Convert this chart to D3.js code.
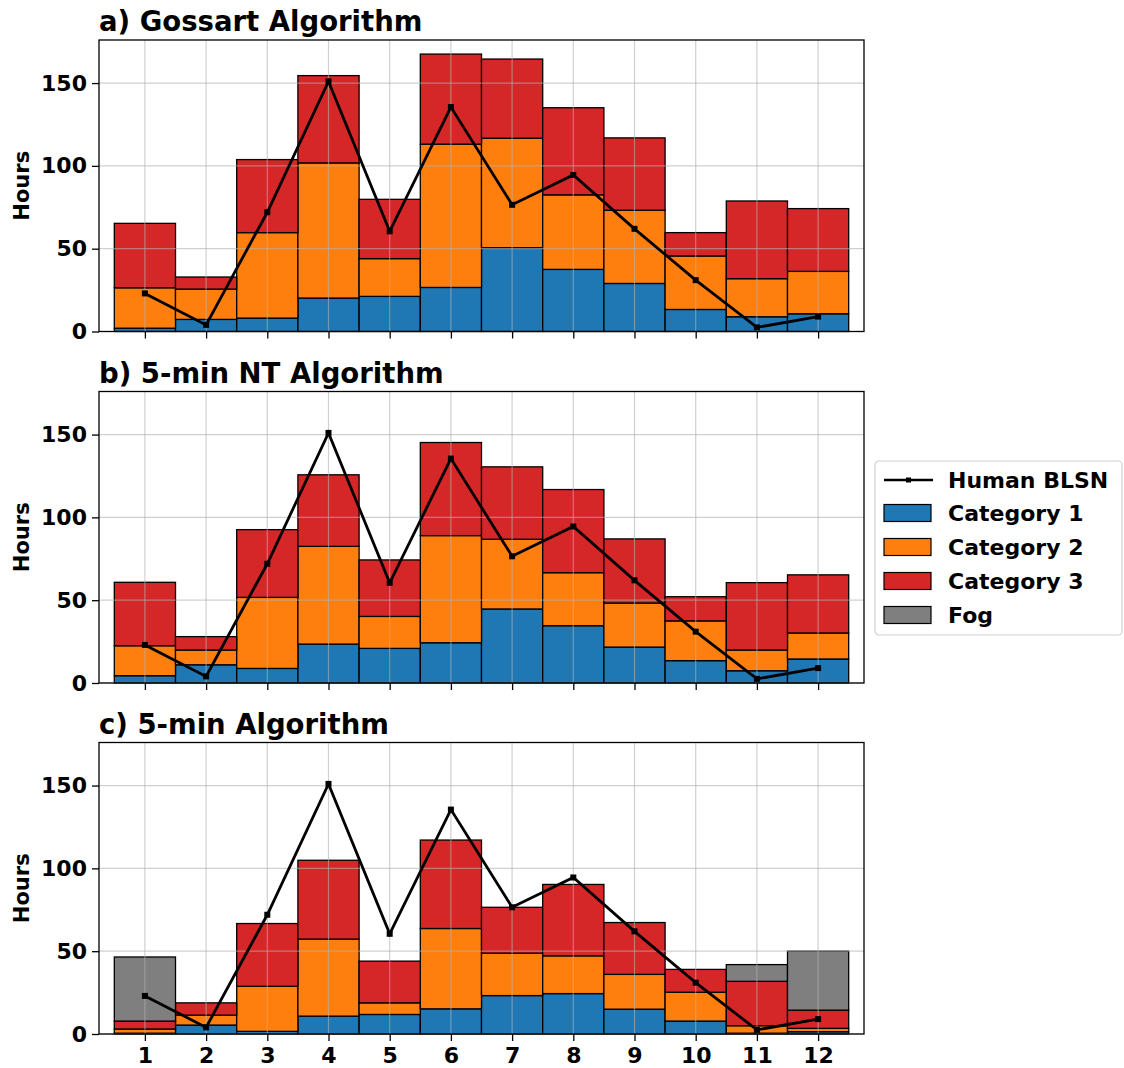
<!DOCTYPE html>
<html>
<head>
<meta charset="utf-8">
<script src="https://cdn.jsdelivr.net/npm/d3@7"></script>
<style>
  body { margin: 0; background: #fff; }
  text { font-family: "DejaVu Sans", sans-serif; font-weight: bold; fill: #000; }
</style>
</head>
<body>
<div id="chart"></div>
<script>
var months = [1, 2, 3, 4, 5, 6, 7, 8, 9, 10, 11, 12];
var humanBLSN = [23, 4, 72, 151, 60.5, 135.5, 76.5, 94.5, 62, 31, 2.5, 9];

// cumulative tops, turned into per-category values below
var gossartCat1 = [2, 7.3, 8.1, 20.2, 21.2, 26.6, 50.6, 37.5, 29, 13.3, 8.9, 10.7];
var gossartCat2 = [24.4, 18.3, 51.6, 81.6, 22.8, 86.5, 66.1, 45, 44.2, 32.3, 23, 25.6];
var gossartCat3 = [38.9, 7.3, 44.1, 52.7, 35.8, 54.4, 47.8, 52.6, 43.7, 14.1, 46.9, 37.9];
var gossartFog = [0, 0, 0, 0, 0, 0, 0, 0, 0, 0, 0, 0];

var ntCat1 = [4.4, 11, 8.8, 23.5, 20.9, 24.3, 44.7, 34.6, 21.7, 13.5, 7.4, 14.5];
var ntCat2 = [18.1, 8.9, 42.9, 59, 19.3, 64.7, 42.1, 32, 26.6, 24, 12.5, 15.7];
var ntCat3 = [38.3, 8.1, 40.9, 43.2, 34.1, 56.2, 43.7, 50.2, 38.7, 14.6, 40.7, 35.1];
var ntFog = [0, 0, 0, 0, 0, 0, 0, 0, 0, 0, 0, 0];

var fiveCat1 = [0.5, 5.4, 1.6, 10.8, 11.8, 15.2, 23.2, 24.4, 15, 7.8, 0.5, 1.4];
var fiveCat2 = [2.5, 6, 27.2, 46.5, 7, 48.5, 25.6, 22.8, 21, 17.4, 4.5, 2];
var fiveCat3 = [4.8, 7.4, 37.9, 47.6, 25.2, 53.4, 27.7, 43.1, 31.3, 13.8, 26.8, 11];
var fiveFog = [38.7, 0, 0, 0, 0, 0, 0, 0, 0, 0, 10.1, 35.6];

var yTicks = [0, 50, 100, 150];
var seriesNames = ["Category 1", "Category 2", "Category 3", "Fog"];
var seriesColors = ["#1f77b4", "#ff7f0e", "#d62728", "#7f7f7f"];

var panels = [
  { title: "a) Gossart Algorithm", top: 40, values: [gossartCat1, gossartCat2, gossartCat3, gossartFog] },
  { title: "b) 5-min NT Algorithm", top: 391.5, values: [ntCat1, ntCat2, ntCat3, ntFog] },
  { title: "c) 5-min Algorithm", top: 742.5, values: [fiveCat1, fiveCat2, fiveCat3, fiveFog] }
];

var width = 1124, height = 1068;
var left = 99, right = 864, panelHeight = 291.5;

var svg = d3.select("#chart").append("svg")
  .attr("width", width)
  .attr("height", height);

var x = d3.scaleLinear().domain([0.25, 12.75]).range([left, right]);
var barWidth = x(1.5) - x(0.5);

panels.forEach(function (panel, pi) {
  var y = d3.scaleLinear().domain([0, 176]).range([panel.top + panelHeight, panel.top]);
  var g = svg.append("g").attr("class", "panel");

  // stacked bars
  var rows = months.map(function (m, i) {
    var row = { month: m };
    seriesNames.forEach(function (s, k) { row[s] = panel.values[k][i]; });
    return row;
  });
  var stacked = d3.stack().keys(seriesNames)(rows);
  stacked.forEach(function (layer, k) {
    g.selectAll(".bar" + k)
      .data(layer.filter(function (d) { return d[1] - d[0] > 0; }))
      .enter()
      .append("rect")
      .attr("x", function (d) { return x(d.data.month) - barWidth / 2; })
      .attr("width", barWidth)
      .attr("y", function (d) { return y(d[1]); })
      .attr("height", function (d) { return y(d[0]) - y(d[1]); })
      .attr("fill", seriesColors[k])
      .attr("stroke", "#000")
      .attr("stroke-width", 1.3);
  });

  // grid on top of the bars
  g.selectAll(".vgrid").data(months).enter().append("line")
    .attr("x1", function (d) { return x(d); })
    .attr("x2", function (d) { return x(d); })
    .attr("y1", panel.top).attr("y2", panel.top + panelHeight)
    .attr("stroke", "#b0b0b0").attr("stroke-opacity", 0.6).attr("stroke-width", 1.2);
  g.selectAll(".hgrid").data(yTicks).enter().append("line")
    .attr("x1", left).attr("x2", right)
    .attr("y1", function (d) { return y(d); })
    .attr("y2", function (d) { return y(d); })
    .attr("stroke", "#b0b0b0").attr("stroke-opacity", 0.6).attr("stroke-width", 1.2);

  // human line
  var line = d3.line()
    .x(function (d, i) { return x(months[i]); })
    .y(function (d) { return y(d); });
  g.append("path")
    .datum(humanBLSN)
    .attr("d", line)
    .attr("fill", "none")
    .attr("stroke", "#000")
    .attr("stroke-width", 2.8);
  g.selectAll(".marker").data(humanBLSN).enter().append("rect")
    .attr("x", function (d, i) { return x(months[i]) - 3; })
    .attr("y", function (d) { return y(d) - 3; })
    .attr("width", 6).attr("height", 6)
    .attr("fill", "#000");

  // axes
  var yAxis = d3.axisLeft(y).tickValues(yTicks).tickSize(7).tickPadding(5);
  var ya = g.append("g").attr("transform", "translate(" + left + ",0)").call(yAxis);
  var xAxis = d3.axisBottom(x).tickValues(months).tickSize(7).tickPadding(6)
    .tickFormat(pi === 2 ? d3.format("d") : function () { return ""; });
  var xa = g.append("g").attr("transform", "translate(0," + (panel.top + panelHeight) + ")").call(xAxis);
  [ya, xa].forEach(function (a) {
    a.select(".domain").remove();
    a.selectAll("line").attr("stroke", "#000").attr("stroke-width", 1.3);
    a.selectAll("text").style("font-size", "22px").style("font-family", "DejaVu Sans").style("font-weight", "bold");
  });

  g.append("rect")
    .attr("x", left).attr("y", panel.top)
    .attr("width", right - left).attr("height", panelHeight)
    .attr("fill", "none").attr("stroke", "#000").attr("stroke-width", 1.3);

  g.append("text")
    .attr("x", left).attr("y", panel.top - 9)
    .style("font-size", "27.5px")
    .text(panel.title);

  g.append("text")
    .attr("transform", "translate(29," + (panel.top + panelHeight / 2) + ") rotate(-90)")
    .attr("text-anchor", "middle")
    .style("font-size", "21px")
    .text("Hours");
});

// legend
var legend = svg.append("g").attr("transform", "translate(875,461)");
legend.append("rect")
  .attr("width", 247).attr("height", 174).attr("rx", 4)
  .attr("fill", "#fff").attr("stroke", "#d0d0d0").attr("stroke-width", 1.2);
var rowY = [19, 52, 86, 120, 154];
legend.append("line")
  .attr("x1", 9).attr("x2", 58).attr("y1", rowY[0]).attr("y2", rowY[0])
  .attr("stroke", "#000").attr("stroke-width", 2.6);
legend.append("rect")
  .attr("x", 31).attr("y", rowY[0] - 2.5).attr("width", 5).attr("height", 5).attr("fill", "#000");
legend.append("text").attr("x", 73).attr("y", rowY[0] + 8).style("font-size", "22px").text("Human BLSN");
seriesNames.forEach(function (s, k) {
  legend.append("rect")
    .attr("x", 9).attr("y", rowY[k + 1] - 8.5).attr("width", 47).attr("height", 17)
    .attr("fill", seriesColors[k]).attr("stroke", "#000").attr("stroke-width", 1.2);
  legend.append("text").attr("x", 73).attr("y", rowY[k + 1] + 8).style("font-size", "22px").text(s);
});
</script>
</body>
</html>
